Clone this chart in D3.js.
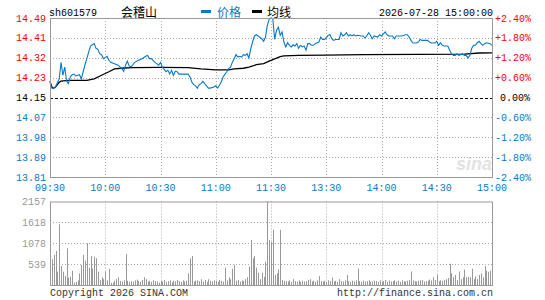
<!DOCTYPE html>
<html><head><meta charset="utf-8">
<script src="https://cdn.jsdelivr.net/npm/d3@7"></script>
<style>body{margin:0;background:#fff}svg{display:block}</style>
</head><body>
<svg id="c" width="545" height="300"></svg>
<script>
const code = "sh601579", name = "会稽山", stamp = "2026-07-28 15:00:00";
const prevClose = 14.15;
const priceTicks = ["14.49","14.41","14.32","14.23","14.15","14.07","13.98","13.89","13.81"];
const pctTicks = ["+2.40%","+1.80%","+1.20%","+0.60%","0.00%","-0.60%","-1.20%","-1.80%","-2.40%"];
const pctValues = [2.4,1.8,1.2,0.6,0,-0.6,-1.2,-1.8,-2.4];
const timeLabels = ["09:30","10:00","10:30","11:00","11:30","13:30","14:00","14:30","15:00"];
const timeMinutes = [0,30,60,90,120,150,180,210,240];
const volTicks = [2157,1618,1078,539];

const priceMin = [0,1,2,3,4,5,6,7,8,9,10,11,12,13,14,16,17,18,19,20,21,22,23,24,25,26,27,28,29,31,32,33,35,37,39,40,41,42,43,44,45,46,48,50,52,53,54,55,57,59,60,61,62,63,64,65,66,67,68,69,70,71,73,75,76,77,78,79,80,81,82,83,84,85,86,87,89,90,91,92,93,94,95,96,97,98,99,100,101,102,103,104,105,106,107,108,109,110,111,112,113,115,116,117,118,119,120,121,122,123,124,125,126,127,128,129,130,131,132,133,134,135,136,137,138,139,140,141,142,143,144,146,147,148,149,150,151,152,153,154,155,157,158,159,160,161,162,163,164,165,166,167,169,170,171,172,173,174,175,176,178,179,180,181,182,183,184,186,187,188,190,191,193,194,195,196,197,198,199,200,201,202,204,205,206,207,209,210,211,212,213,214,216,217,218,219,220,221,222,223,224,225,226,227,228,229,230,231,232,233,234,235,236,237,239,240];
const priceVal = [14.215,14.19,14.19,14.195,14.213,14.23,14.30,14.245,14.28,14.22,14.21,14.238,14.247,14.25,14.242,14.247,14.23,14.26,14.29,14.316,14.344,14.37,14.375,14.38,14.36,14.356,14.337,14.333,14.316,14.326,14.309,14.30,14.294,14.288,14.273,14.262,14.288,14.305,14.285,14.28,14.29,14.30,14.309,14.316,14.326,14.33,14.316,14.316,14.30,14.288,14.30,14.28,14.27,14.26,14.266,14.25,14.266,14.245,14.262,14.26,14.25,14.25,14.25,14.25,14.238,14.216,14.205,14.20,14.19,14.205,14.209,14.219,14.209,14.20,14.19,14.19,14.195,14.20,14.19,14.202,14.216,14.238,14.25,14.26,14.273,14.28,14.30,14.316,14.333,14.323,14.326,14.323,14.333,14.33,14.337,14.319,14.358,14.387,14.413,14.418,14.413,14.401,14.39,14.408,14.458,14.484,14.49,14.487,14.398,14.437,14.45,14.416,14.43,14.387,14.366,14.384,14.373,14.366,14.375,14.37,14.38,14.36,14.373,14.366,14.37,14.352,14.38,14.38,14.373,14.373,14.38,14.387,14.408,14.398,14.398,14.404,14.416,14.418,14.401,14.394,14.398,14.398,14.427,14.413,14.418,14.427,14.413,14.418,14.413,14.418,14.413,14.416,14.413,14.413,14.404,14.413,14.427,14.416,14.401,14.413,14.408,14.418,14.413,14.422,14.43,14.418,14.413,14.413,14.401,14.413,14.413,14.413,14.418,14.418,14.408,14.394,14.384,14.383,14.383,14.387,14.398,14.394,14.394,14.394,14.387,14.383,14.383,14.39,14.373,14.384,14.373,14.37,14.37,14.352,14.337,14.33,14.33,14.337,14.33,14.333,14.337,14.33,14.33,14.319,14.33,14.36,14.373,14.373,14.384,14.39,14.38,14.373,14.38,14.384,14.38,14.373];

const avgMin = [0,1,2,3,4,5,6,10,20,24,28,32,35,40,45,60,75,82,90,97,100,105,108,112,116,119,121,123,125,127,135,150,170,200,225,233,240];
const avgVal = [14.22,14.195,14.19,14.195,14.205,14.215,14.22,14.223,14.223,14.23,14.245,14.26,14.272,14.276,14.278,14.279,14.278,14.272,14.268,14.268,14.272,14.275,14.28,14.29,14.295,14.305,14.312,14.318,14.325,14.328,14.33,14.331,14.333,14.334,14.335,14.34,14.341];

const volume = [259,666,777,880,345,1570,492,345,233,950,
190,215,370,60,80,120,300,518,777,630,
1080,450,750,430,730,690,345,130,200,150,
345,120,414,60,60,110,150,200,100,90,
120,800,110,80,100,90,120,140,100,80,
130,200,150,90,110,80,120,100,90,60,
110,90,130,80,100,120,70,110,90,130,
100,80,120,90,110,300,690,750,90,110,
120,100,150,90,130,80,150,110,90,120,
100,80,130,110,90,450,120,200,150,420,
518,110,130,90,120,100,150,200,480,1165,
690,750,450,320,150,320,210,600,2157,1165,
1110,1425,260,300,400,1425,130,110,100,90,
120,80,150,100,90,120,80,110,90,100,
130,150,90,110,80,120,230,100,90,110,
80,120,100,190,90,110,80,150,100,90,
120,260,100,80,110,90,120,430,100,80,
110,90,100,120,80,90,110,100,80,120,
90,100,130,80,110,90,100,120,90,110,
80,120,100,90,110,130,350,120,100,90,
110,120,130,90,100,110,140,120,200,130,
260,100,120,110,130,150,180,550,300,200,
260,120,350,150,200,400,200,215,200,420,
150,215,150,260,300,200,490,370,340,370,
100];

const svg = d3.select("#c");
const L = 50, R = 492, T = 18, B = 177, VT = 201.5, VB = 285;
const mono = "'Liberation Mono','DejaVu Sans Mono',monospace";
const cjk = "'Noto Sans CJK SC',sans-serif";
const RED = "#ff0000", BLUE = "#0a78c8", GRAY = "#999";

const x = d3.scaleLinear().domain([0,240]).range([L,R]);
const y = d3.scaleLinear().domain([prevClose*0.976, prevClose*1.024]).range([B,T]);
const yp = d3.scaleLinear().domain([-2.4,2.4]).range([B,T]);
const yv = d3.scaleLinear().domain([0,2157]).range([VB,VT]);

// Header
svg.append("text").attr("x",49).attr("y",16).attr("font-family",mono).attr("font-size",10).text(code);
svg.append("text").attr("x",121).attr("y",16.5).attr("font-family",cjk).attr("font-size",12).text(name);
svg.append("rect").attr("x",201).attr("y",10).attr("width",10).attr("height",3).attr("fill",BLUE);
svg.append("text").attr("x",217).attr("y",16.5).attr("font-family",cjk).attr("font-size",12).attr("fill",BLUE).text("价格");
svg.append("rect").attr("x",252).attr("y",10).attr("width",10).attr("height",3).attr("fill","#000");
svg.append("text").attr("x",267).attr("y",16.5).attr("font-family",cjk).attr("font-size",12).text("均线");
svg.append("text").attr("x",493).attr("y",16).attr("text-anchor","end").attr("font-family",mono).attr("font-size",10).text(stamp);

// watermark
svg.append("text").attr("x",456).attr("y",170).attr("font-family","'Liberation Sans',Arial,sans-serif")
  .attr("font-size",18).attr("font-style","italic").attr("font-weight","bold").attr("fill","#e2e2e2").text("sina");

// Main grid
const g = svg.append("g");
pctValues.forEach((p,i)=>{
  if (i===0 || i===pctValues.length-1) return;
  const yy = Math.round(yp(p))+0.5;
  g.append("line").attr("x1",L).attr("x2",R).attr("y1",yy).attr("y2",yy)
    .attr("stroke", p===0 ? "#000" : "#aaa").attr("stroke-dasharray", p===0 ? "3,2" : "1,2");
});
timeMinutes.slice(1,-1).forEach(m=>{
  const xx = Math.round(x(m))+0.5;
  g.append("line").attr("x1",xx).attr("x2",xx).attr("y1",T).attr("y2",B).attr("stroke","#aaa").attr("stroke-dasharray","1,2");
  g.append("line").attr("x1",xx).attr("x2",xx).attr("y1",VT).attr("y2",VB).attr("stroke","#aaa").attr("stroke-dasharray","1,2");
});
volTicks.slice(1).forEach(v=>{
  const yy = Math.round(yv(v))+0.5;
  g.append("line").attr("x1",L).attr("x2",R).attr("y1",yy).attr("y2",yy).attr("stroke","#aaa").attr("stroke-dasharray","1,2");
});

// Volume bars
svg.append("g").selectAll("rect").data(volume).join("rect")
  .attr("x",(d,i)=>Math.round(x(i)))
  .attr("y",d=>yv(d)).attr("width",1).attr("height",d=>VB-yv(d)).attr("fill",GRAY);

// Lines
const pts = priceMin.map((m,i)=>[m,priceVal[i]]);
const apts = avgMin.map((m,i)=>[m,avgVal[i]]);
const line = d3.line().x(d=>x(d[0])).y(d=>y(d[1]));
svg.append("path").attr("d",line(apts)).attr("fill","none").attr("stroke","#000").attr("stroke-width",1.3);
svg.append("path").attr("d",line(pts)).attr("fill","none").attr("stroke",BLUE).attr("stroke-width",1.1);

// Borders
svg.append("rect").attr("x",L+0.5).attr("y",T+0.5).attr("width",R-L).attr("height",B-T).attr("fill","none").attr("stroke",GRAY);
svg.append("rect").attr("x",L+0.5).attr("y",VT+0.5).attr("width",R-L).attr("height",VB-VT).attr("fill","none").attr("stroke",GRAY);

// Axis labels
pctValues.forEach((p,i)=>{
  const col = p>0 ? RED : (p<0 ? BLUE : "#000");
  svg.append("text").attr("x",46).attr("y",yp(p)).attr("dy","0.35em").attr("text-anchor","end")
    .attr("font-family",mono).attr("font-size",10).attr("fill",col).text(priceTicks[i]);
  svg.append("text").attr("x",p===0?500:495).attr("y",yp(p)).attr("dy","0.35em")
    .attr("font-family",mono).attr("font-size",10).attr("fill",col).text(pctTicks[i]);
});
timeMinutes.forEach((m,i)=>{
  svg.append("text").attr("x",x(m)).attr("y",187).attr("dy","0.35em").attr("text-anchor","middle")
    .attr("font-family",mono).attr("font-size",10).attr("fill",BLUE).text(timeLabels[i]);
});
volTicks.forEach(v=>{
  svg.append("text").attr("x",46).attr("y",yv(v)).attr("dy","0.35em").attr("text-anchor","end")
    .attr("font-family",mono).attr("font-size",10).attr("fill",GRAY).text(v);
});
svg.append("text").attr("x",50).attr("y",296).attr("font-family",mono).attr("font-size",10).attr("fill","#333").text("Copyright 2026 SINA.COM");
svg.append("text").attr("x",493).attr("y",296).attr("text-anchor","end").attr("font-family",mono).attr("font-size",10).attr("fill","#333").text("http://finance.sina.com.cn");
</script>
</body></html>
